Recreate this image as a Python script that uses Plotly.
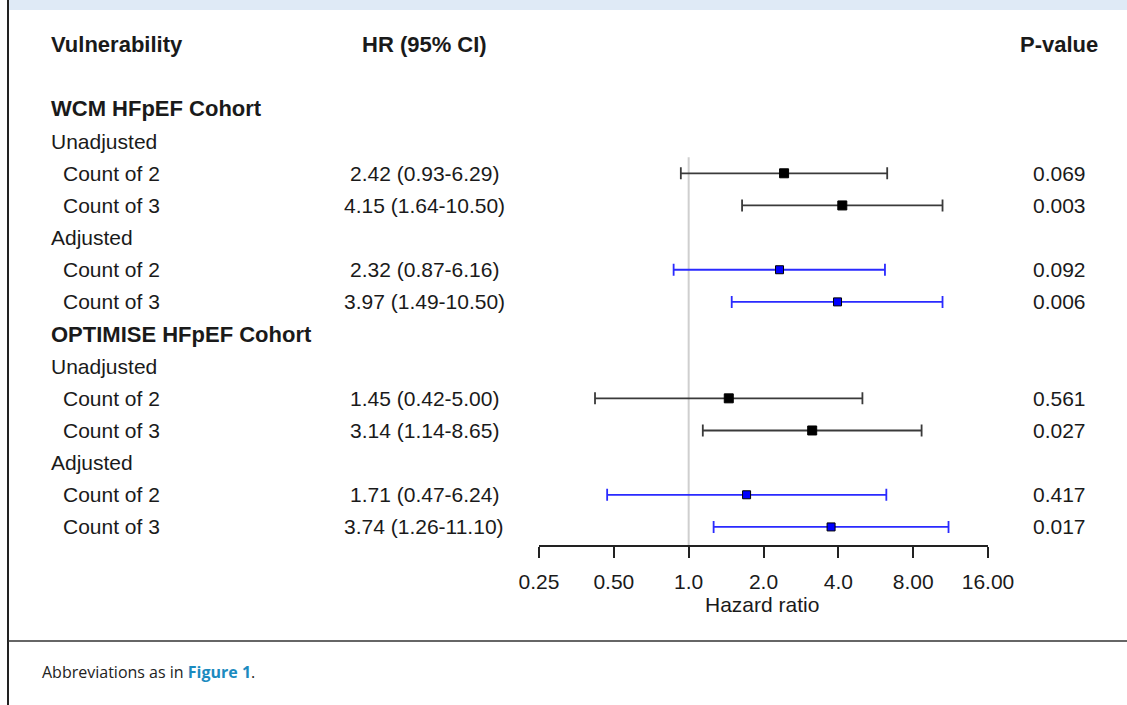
import math
import plotly.graph_objects as go

# ---- data ----
row_labels = ["Vulnerability", "", "WCM HFpEF Cohort", "Unadjusted", "Count of 2", "Count of 3",
              "Adjusted", "Count of 2", "Count of 3", "OPTIMISE HFpEF Cohort", "Unadjusted",
              "Count of 2", "Count of 3", "Adjusted", "Count of 2", "Count of 3"]
row_kind = ["head", "blank", "group", "sub", "item", "item", "sub", "item", "item", "group",
            "sub", "item", "item", "sub", "item", "item"]
data_rows = [4, 5, 7, 8, 11, 12, 14, 15]
hr = [2.42, 4.15, 2.32, 3.97, 1.45, 3.14, 1.71, 3.74]
lo = [0.93, 1.64, 0.87, 1.49, 0.42, 1.14, 0.47, 1.26]
hi = [6.29, 10.50, 6.16, 10.50, 5.00, 8.65, 6.24, 11.10]
hr_text = ["2.42 (0.93-6.29)", "4.15 (1.64-10.50)", "2.32 (0.87-6.16)", "3.97 (1.49-10.50)",
           "1.45 (0.42-5.00)", "3.14 (1.14-8.65)", "1.71 (0.47-6.24)", "3.74 (1.26-11.10)"]
p_text = ["0.069", "0.003", "0.092", "0.006", "0.561", "0.027", "0.417", "0.017"]
adjusted = [False, False, True, True, False, False, True, True]
tick_vals = [0.25, 0.5, 1, 2, 4, 8, 16]
tick_text = ["0.25", "0.50", "1.0", "2.0", "4.0", "8.00", "16.00"]
col_headers = ["HR (95% CI)", "P-value"]
ref_value = 1

W, H = 1127, 705
FONT = "Liberation Sans, Arial, sans-serif"
TXT = "#1a1a1a"
REG = 21
BOLD = 22

fig = go.Figure()

# reference line at HR = 1
fig.add_trace(go.Scatter(x=[ref_value, ref_value], y=[3.5, 15.562], mode="lines",
                         line=dict(color="#cfcfcf", width=2), hoverinfo="skip"))

for grp_adj, lcol, mfill, msize in [(False, "#3a3a3a", "black", 9), (True, "#2a2aff", "#0000ff", 8)]:
    idx = [i for i in range(len(hr)) if adjusted[i] == grp_adj]
    fig.add_trace(go.Scatter(
        x=[hr[i] for i in idx], y=[data_rows[i] for i in idx], mode="markers",
        marker=dict(symbol="square", size=msize, color=mfill, line=dict(color="black", width=1)),
        error_x=dict(type="data", symmetric=False,
                     array=[hi[i] - hr[i] for i in idx],
                     arrayminus=[hr[i] - lo[i] for i in idx],
                     color=lcol, thickness=1.8, width=6),
        hoverinfo="skip"))

ann = []
for r, (lab, kind) in enumerate(zip(row_labels, row_kind)):
    if kind == "blank":
        continue
    bold = kind in ("head", "group")
    x = 61 if kind == "item" else 49
    ann.append(dict(x=x / W, xref="paper", y=r, yref="y", xanchor="left", yanchor="middle",
                    text=f"<b>{lab}</b>" if bold else lab, showarrow=False,
                    font=dict(family=FONT, size=BOLD if bold else REG, color=TXT)))
ann.append(dict(x=424 / W, xref="paper", y=0, yref="y", xanchor="center", yanchor="middle",
                text=f"<b>{col_headers[0]}</b>", showarrow=False,
                font=dict(family=FONT, size=BOLD, color=TXT)))
ann.append(dict(x=1059 / W, xref="paper", y=0, yref="y", xanchor="center", yanchor="middle",
                text=f"<b>{col_headers[1]}</b>", showarrow=False,
                font=dict(family=FONT, size=BOLD, color=TXT)))
for i, r in enumerate(data_rows):
    ann.append(dict(x=424 / W, xref="paper", y=r, yref="y", xanchor="center", yanchor="middle",
                    text=hr_text[i], showarrow=False, font=dict(family=FONT, size=REG, color=TXT)))
    ann.append(dict(x=1059 / W, xref="paper", y=r, yref="y", xanchor="center", yanchor="middle",
                    text=p_text[i], showarrow=False, font=dict(family=FONT, size=REG, color=TXT)))
# axis title
ann.append(dict(x=762 / W, xref="paper", y=(H - 604) / H, yref="paper", xanchor="center",
                yanchor="middle", text="Hazard ratio", showarrow=False,
                font=dict(family=FONT, size=REG, color=TXT)))
# caption
ann.append(dict(x=40 / W, xref="paper", y=(H - 672) / H, yref="paper", xanchor="left",
                yanchor="middle",
                text="Abbreviations as in <b><span style='color:#1b8bbf'>Figure 1</span></b>.",
                showarrow=False, font=dict(family="Open Sans, sans-serif", size=16, color="#222222")))

shapes = [
    dict(type="rect", xref="paper", yref="paper", x0=9 / W, x1=1, y0=(H - 10) / H, y1=1,
         fillcolor="#dfeaf6", line=dict(width=0), layer="below"),
    dict(type="line", xref="paper", yref="paper", x0=8 / W, x1=8 / W, y0=0, y1=1,
         line=dict(color="#222222", width=2)),
    dict(type="line", xref="paper", yref="paper", x0=8 / W, x1=1, y0=(H - 641) / H,
         y1=(H - 641) / H, line=dict(color="#333333", width=1.5)),
]

fig.update_layout(
    width=W, height=H, autosize=False, margin=dict(l=0, r=0, t=0, b=0, autoexpand=False),
    paper_bgcolor="white", plot_bgcolor="white", showlegend=False,
    annotations=ann, shapes=shapes,
    xaxis=dict(type="log", domain=[539 / W, 988 / W],
               range=[math.log10(0.25), math.log10(16)],
               tickvals=tick_vals, ticktext=tick_text, ticks="outside", ticklen=11,
               tickcolor="#222222", tickwidth=1.5, showline=True, linecolor="#222222",
               linewidth=1.5, showgrid=False, zeroline=False, ticklabelstandoff=6,
               tickfont=dict(family=FONT, size=REG, color=TXT), fixedrange=True),
    yaxis=dict(domain=[(H - 545) / H, 1], range=[15.562, -1.390], visible=False,
               showgrid=False, zeroline=False, fixedrange=True),
)

fig.write_html("out.html", config=dict(displayModeBar=False, responsive=False),
               post_script="document.documentElement.style.margin='0';"
                           "document.body.style.margin='0';document.body.style.overflow='hidden';")
